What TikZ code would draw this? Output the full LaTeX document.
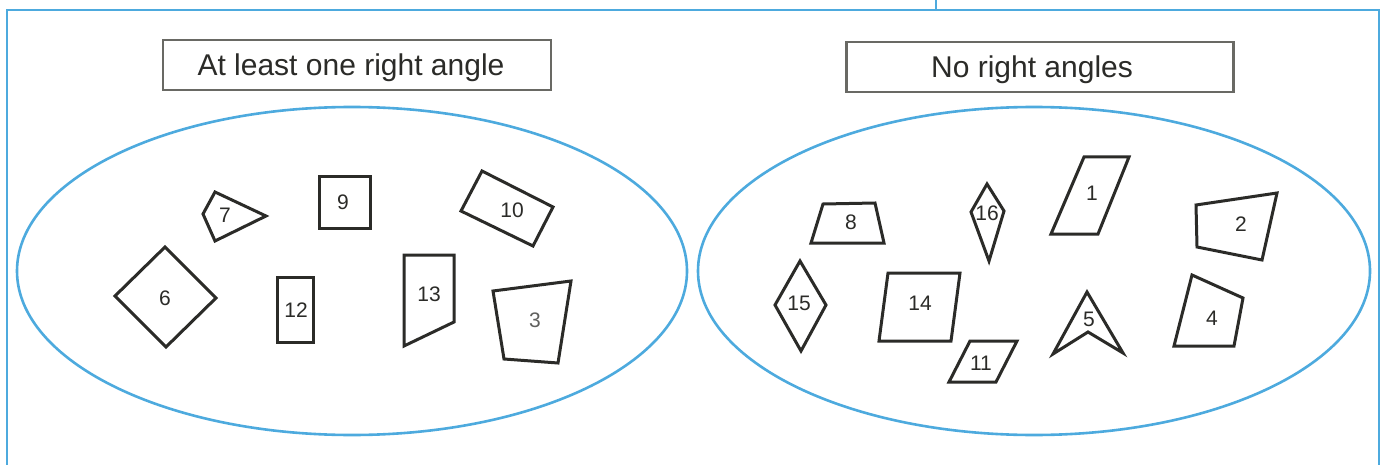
\documentclass[tikz,border=0pt]{standalone}
\usepackage{fontspec}
\setmainfont{Liberation Sans}
\definecolor{setblue}{RGB}{77,170,222}
\definecolor{ink}{RGB}{43,43,40}
\definecolor{boxgray}{RGB}{105,105,100}
\tikzset{
  frameline/.style={draw=setblue, line width=2.5pt},
  setring/.style={draw=setblue, line width=2.6pt},
  labelbox/.style={draw=boxgray, line width=2.2pt, inner sep=0pt},
  heading/.style={font=\fontsize{30}{36}\selectfont, text=ink, inner sep=0pt,
    text height=22pt, text depth=0pt},
  figure/.style={draw=ink, line width=3pt, line join=miter},
  num/.style={font=\fontsize{21}{25}\selectfont, text=ink, inner sep=0pt}
}
\begin{document}
\begin{tikzpicture}[x=1pt, y=-1pt]
\useasboundingbox (0,0) rectangle (1380,465);
\fill[white] (0,0) rectangle (1380,465);

% page frame
\draw[frameline] (7,465) -- (7,10) -- (1379,10) -- (1379,465);
\draw[frameline] (936,0) -- (936,10);

% set headings
\node[labelbox, minimum width=388pt, minimum height=50pt] (boxL) at (357,65) {};
\node[heading] (headL) at (351,65) {At least one right angle};
\node[labelbox, minimum width=387pt, minimum height=50pt] (boxR) at (1040,67) {};
\node[heading] (headR) at (1032,67) {No right angles};

% the two sets
\draw[setring] (352,271) ellipse [x radius=335, y radius=164];
\draw[setring] (1034,271) ellipse [x radius=336, y radius=164];

% shapes with at least one right angle
\draw[figure] (215,192) -- (266,216) -- (215,241) -- (203,214) -- cycle;
\node[num] (n7) at (225,215) {7};
\draw[figure] (319,177) rectangle (370,228);
\node[num] (n9) at (343,202) {9};
\draw[figure] (165,247) -- (216,298) -- (166,347) -- (115,296) -- cycle;
\node[num] (n6) at (165,298) {6};
\draw[figure] (277,277) rectangle (313,342);
\node[num] (n12) at (296,310) {12};
\draw[figure] (482,171) -- (553,207) -- (533,246) -- (461,211) -- cycle;
\node[num] (n10) at (512,210) {10};
\draw[figure] (404,255) -- (454,255) -- (454,322) -- (404,346) -- cycle;
\node[num] (n13) at (429,294) {13};
\draw[figure] (493,291) -- (571,281) -- (558,363) -- (504,359) -- cycle;
\node[num, text=ink!75] (n3) at (535,320) {3};

% shapes with no right angles
\draw[figure] (823,204) -- (875,203) -- (884,243) -- (811,243) -- cycle;
\node[num] (n8) at (851,222) {8};
\draw[figure] (987,184) -- (1004,211) -- (989,261) -- (971,212) -- cycle;
\node[num] (n16) at (987,213) {16};
\draw[figure] (800,261) -- (826,305) -- (801,351) -- (775,305) -- cycle;
\node[num] (n15) at (799,303) {15};
\draw[figure] (888,273) -- (960,273) -- (951,341) -- (879,341) -- cycle;
\node[num] (n14) at (920,303) {14};
\draw[figure] (970,341) -- (1017,341) -- (996,382) -- (949,382) -- cycle;
\node[num] (n11) at (981,363) {11};
\draw[figure] (1084,157) -- (1129,157) -- (1098,234) -- (1051,234) -- cycle;
\node[num] (n1) at (1092,193) {1};
\draw[figure] (1196,205) -- (1277,193) -- (1262,260) -- (1197,247) -- cycle;
\node[num] (n2) at (1241,224) {2};
\draw[figure] (1087,292) -- (1123,353) -- (1088,332) -- (1053,354) -- cycle;
\node[num] (n5) at (1089,319) {5};
\draw[figure] (1192,275) -- (1243,298) -- (1234,346) -- (1174,346) -- cycle;
\node[num] (n4) at (1212,318) {4};
\end{tikzpicture}
\end{document}
